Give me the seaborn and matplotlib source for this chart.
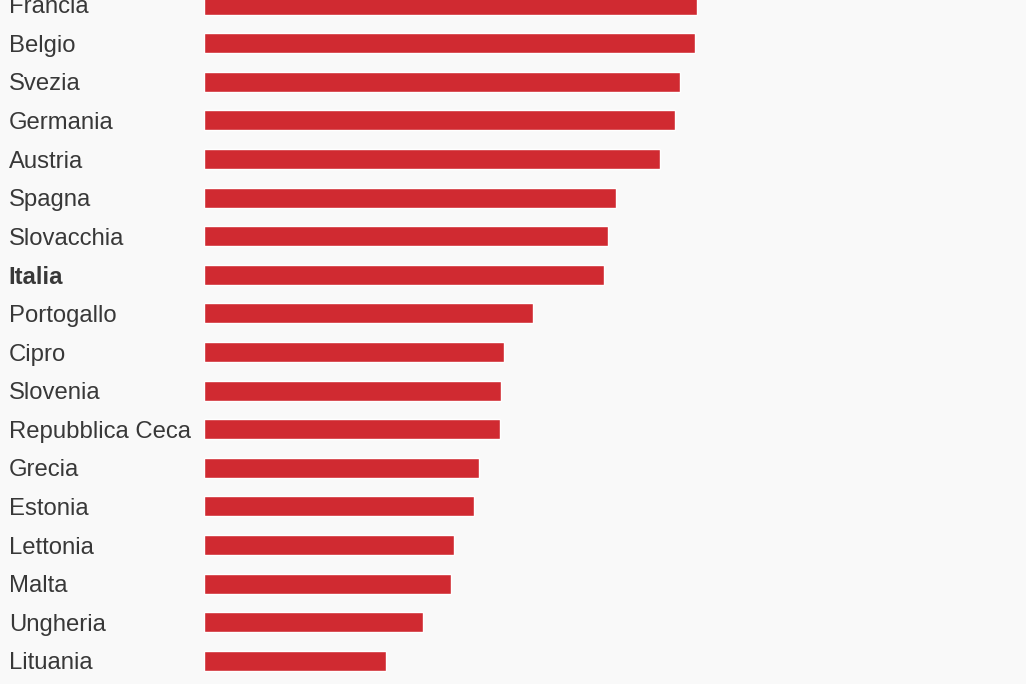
import matplotlib
matplotlib.use("Agg")
import matplotlib.pyplot as plt
import seaborn as sns
import pandas as pd

# dati (scala arbitraria)
paesi = ["Francia", "Belgio", "Svezia", "Germania", "Austria", "Spagna",
         "Slovacchia", "Italia", "Portogallo", "Cipro", "Slovenia",
         "Repubblica Ceca", "Grecia", "Estonia", "Lettonia", "Malta",
         "Ungheria", "Lituania"]
valori = [49.3, 49.1, 47.6, 47.1, 45.6, 41.2, 40.4, 40.0, 32.9, 30.0,
          29.7, 29.6, 27.5, 27.0, 25.0, 24.7, 21.9, 18.2]
evidenziato = "Italia"

df = pd.DataFrame({"paese": paesi, "valore": valori})

sns.set_style("white")
plt.rcParams['font.family'] = ['Liberation Sans', 'DejaVu Sans']

fig = plt.figure(figsize=(10.26, 6.84), dpi=100, facecolor="#f9f9f9")
ax = fig.add_axes([203.5 / 1026, 0, 822.5 / 1026, 1])
ax.set_facecolor("#f9f9f9")

sns.barplot(data=df, x="valore", y="paese", orient="h", color="#d02a31",
            width=0.52, saturation=1, ax=ax)

ax.set_xlim(0, 82.25)
ax.set_ylim(17.60, -0.12)
ax.set_xlabel("")
ax.set_ylabel("")
ax.set_xticks([])
sns.despine(ax=ax, left=True, bottom=True)

ax.tick_params(axis="y", length=0, pad=140.2)
for lab in ax.get_yticklabels():
    lab.set_ha("left")
    lab.set_fontsize(17.2)
    lab.set_color("#383838")
    if lab.get_text() == evidenziato:
        lab.set_fontweight("bold")

fig.savefig("out.png", dpi=100, facecolor=fig.get_facecolor())
